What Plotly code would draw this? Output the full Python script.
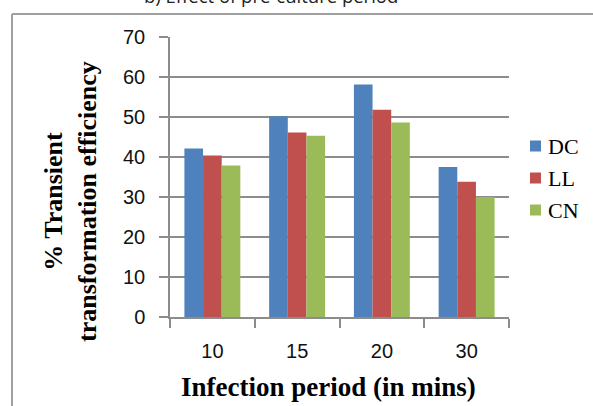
import plotly.graph_objects as go

categories = ["10", "15", "20", "30"]
dc_values = [42.1, 50.2, 58.1, 37.5]
ll_values = [40.4, 46.1, 51.8, 33.8]
cn_values = [37.9, 45.3, 48.6, 30.0]
series_names = ["DC", "LL", "CN"]
series_colors = ["#4F81BD", "#C0504D", "#9BBB59"]
y_ticks = [0, 10, 20, 30, 40, 50, 60, 70]

W, H = 593, 406
L, R, T, B = 170, 84, 37, 89
pw, ph = W - L - R, H - T - B

def px(x):
    return (x - L) / pw

def py(y):
    return (H - B - y) / ph

fig = go.Figure()
for name, vals, col in zip(series_names, [dc_values, ll_values, cn_values], series_colors):
    fig.add_trace(go.Bar(name=name, x=categories, y=vals, marker=dict(color=col, line=dict(width=0)),
                         showlegend=False))

grid = "#8c8c8c"
fig.update_layout(
    width=W, height=H,
    margin=dict(l=L, r=R, t=T, b=B, autoexpand=False),
    paper_bgcolor="white", plot_bgcolor="white",
    barmode="group", bargap=0.34, bargroupgap=0,
    font=dict(family="Liberation Sans", color="black"),
    xaxis=dict(type="category", showline=True, linecolor=grid, linewidth=1.5,
               ticks="outside", tickson="boundaries", ticklen=9, tickcolor=grid, tickwidth=1.5,
               ticklabelstandoff=15,
               showgrid=False, tickfont=dict(family="Liberation Sans", size=20, color="#111111")),
    yaxis=dict(range=[0, 70], tickvals=y_ticks, showline=True, linecolor=grid, linewidth=1.5,
               ticks="outside", ticklen=9, tickcolor=grid, tickwidth=1.5, ticklabelstandoff=10,
               showgrid=True, gridcolor=grid, gridwidth=1.5, zeroline=False,
               tickfont=dict(family="Liberation Sans", size=20, color="#111111")),
    showlegend=False,
)

# legend drawn as squares + labels
leg_rows = [146, 178, 210]
for name, col, yc in zip(series_names, series_colors, leg_rows):
    fig.add_shape(type="rect", xref="paper", yref="paper",
                  x0=px(530), x1=px(541), y0=py(yc + 5.5), y1=py(yc - 5.5),
                  fillcolor=col, line=dict(width=0))
    fig.add_annotation(text=name, x=px(546), y=py(yc), xref="paper", yref="paper",
                       showarrow=False, xanchor="left", yanchor="middle",
                       font=dict(family="Liberation Serif", size=22, color="black"))

fig.add_annotation(text="<b>Infection period (in mins)</b>", x=px(328), y=py(387),
                   xref="paper", yref="paper", showarrow=False, xanchor="center", yanchor="middle",
                   font=dict(family="Liberation Serif", size=27, color="black"))
fig.add_annotation(text="<b>% Transient<br>transformation efficiency</b>", x=px(70), y=py(202),
                   xref="paper", yref="paper", showarrow=False, xanchor="center", yanchor="middle",
                   textangle=-90, font=dict(family="Liberation Serif", size=26, color="black"))
fig.add_annotation(text="b) Effect of pre-culture period", x=px(271), y=py(-4.5),
                   xref="paper", yref="paper", showarrow=False, xanchor="center", yanchor="middle",
                   font=dict(family="Open Sans", size=18.5, color="#222222"))

border = "#a0a0a0"
fig.add_shape(type="line", xref="paper", yref="paper", x0=px(12), x1=px(600), y0=py(14), y1=py(14),
              line=dict(color=border, width=2))
fig.add_shape(type="line", xref="paper", yref="paper", x0=px(12), x1=px(12), y0=py(14), y1=py(420),
              line=dict(color=border, width=2))

fig.write_html("out.html")
